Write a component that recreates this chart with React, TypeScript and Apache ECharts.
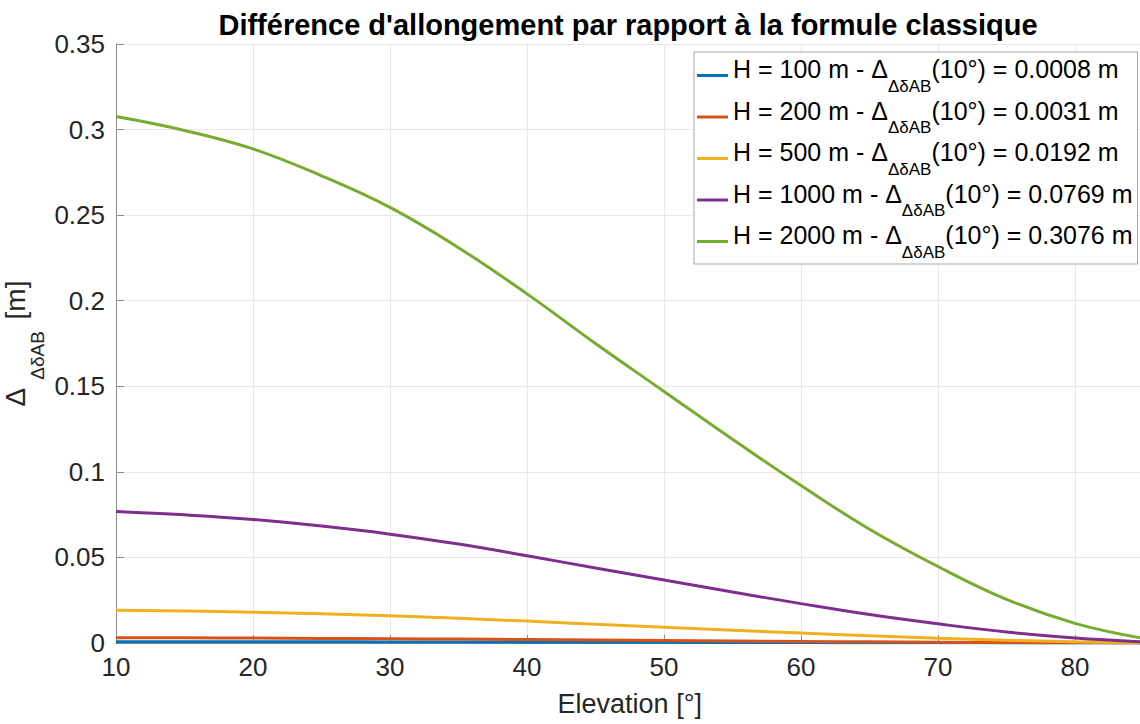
import React, { useEffect, useRef } from "react";
import * as echarts from "echarts";

const elevations = [10, 15, 20, 25, 30, 35, 40, 45, 50, 55, 60, 65, 70, 75, 80, 85];
const heights = ["H = 100 m", "H = 200 m", "H = 500 m", "H = 1000 m", "H = 2000 m"];
const colors = ["#0072BD", "#D95319", "#EDB120", "#7E2F8E", "#77AC30"];

const h100 = [0.0008, 0.00075, 0.00072, 0.00068, 0.00064, 0.00058, 0.00051, 0.00044, 0.00037, 0.0003, 0.00023, 0.00017, 0.00011, 0.00006, 0.00003, 0.00001];
const h200 = [0.0031, 0.003, 0.0029, 0.0027, 0.0025, 0.0023, 0.002, 0.00175, 0.00147, 0.00119, 0.00092, 0.00066, 0.00045, 0.00026, 0.00012, 0.00003];
const h500 = [0.0192, 0.0187, 0.018, 0.0171, 0.0159, 0.0144, 0.0128, 0.0109, 0.0092, 0.0074, 0.0058, 0.0042, 0.0028, 0.0016, 0.0007, 0.0002];
const h1000 = [0.0769, 0.0749, 0.0722, 0.0683, 0.0636, 0.0578, 0.051, 0.0438, 0.0368, 0.0298, 0.023, 0.0166, 0.0112, 0.0064, 0.0029, 0.0007];
const h2000 = [0.3076, 0.2995, 0.2887, 0.273, 0.2545, 0.231, 0.204, 0.175, 0.147, 0.119, 0.092, 0.0665, 0.0447, 0.0255, 0.0115, 0.0027];
const seriesValues = [h100, h200, h500, h1000, h2000];

const titleText = "Différence d'allongement par rapport à la formule classique";
const xName = "Elevation [°]";

const FONT = "'Liberation Sans', Arial, Helvetica, sans-serif";

export default function App() {
  const ref = useRef<HTMLDivElement>(null);
  useEffect(() => {
    if (!ref.current) return;
    const chart = echarts.init(ref.current, undefined, { renderer: "svg" });
    const legendMap: Record<string, string> = {};
    heights.forEach((h, i) => {
      legendMap[h] = seriesValues[i][0].toFixed(4);
    });
    const option: any = {
      animation: false,
      backgroundColor: "#ffffff",
      title: {
        text: titleText,
        left: 623,
        textAlign: "center",
        top: 5.5,
        textStyle: { fontFamily: FONT, fontSize: 29, fontWeight: "bold", color: "#000000" },
      },
      grid: {
        left: 116,
        top: 44,
        width: 1027.5,
        height: 599,
        containLabel: false,
        outerBoundsMode: "none",
      },
      legend: {
        orient: "vertical",
        left: 694,
        top: 52,
        padding: [4.5, 5, 3.5, 3],
        itemGap: 3.5,
        itemWidth: 31,
        itemHeight: 3,
        icon: "rect",
        backgroundColor: "#ffffff",
        borderColor: "#a6a6a6",
        borderWidth: 1,
        data: heights,
        formatter: (name: string) => `{a|${name} - Δ}{s|ΔδAB}{a|(10°) = ${legendMap[name]} m}`,
        textStyle: {
          fontFamily: FONT,
          color: "#000000",
          rich: {
            a: { fontFamily: FONT, fontSize: 25, color: "#000000", lineHeight: 38, verticalAlign: "top" },
            s: { fontFamily: FONT, fontSize: 17, color: "#000000", lineHeight: 4, verticalAlign: "bottom" },
          },
        },
      },
      xAxis: {
        type: "value",
        min: 10,
        max: 85,
        interval: 10,
        name: xName,
        nameLocation: "middle",
        nameGap: 47,
        nameMoveOverlap: false,
        nameTextStyle: { fontFamily: FONT, fontSize: 27, color: "#262626" },
        axisLine: { show: true, lineStyle: { color: "#8c8c8c", width: 1 } },
        axisTick: { show: true, inside: true, length: 8, lineStyle: { color: "#8c8c8c" } },
        axisLabel: { fontFamily: FONT, fontSize: 26, color: "#262626", margin: 11, showMaxLabel: false },
        splitLine: { show: true, lineStyle: { color: "#e8e8e8", width: 1 } },
      },
      yAxis: {
        type: "value",
        min: 0,
        max: 0.35,
        interval: 0.05,
        name: "{a|Δ}{s|ΔδAB}{a| [m]}",
        nameLocation: "middle",
        nameRotate: 90,
        nameGap: 69,
        nameMoveOverlap: false,
        nameTextStyle: {
          fontFamily: FONT,
          color: "#262626",
          rich: {
            a: { fontFamily: FONT, fontSize: 28, color: "#262626", lineHeight: 46, verticalAlign: "top" },
            s: {
              fontFamily: FONT,
              fontSize: 19,
              color: "#262626",
              lineHeight: 4,
              verticalAlign: "bottom",
              padding: [0, 4, 0, 8],
            },
          },
        },
        axisLine: { show: true, lineStyle: { color: "#8c8c8c", width: 1 } },
        axisTick: { show: true, inside: true, length: 8, lineStyle: { color: "#8c8c8c" } },
        axisLabel: {
          fontFamily: FONT,
          fontSize: 26,
          color: "#262626",
          margin: 11,
          formatter: (v: number) => String(parseFloat(v.toFixed(2))),
        },
        splitLine: { show: true, lineStyle: { color: "#e8e8e8", width: 1 } },
      },
      series: heights.map((h, i) => ({
        name: h,
        type: "line",
        data: elevations.map((e, j) => [e, seriesValues[i][j]]),
        showSymbol: false,
        symbol: "none",
        smooth: 0.4,
        lineStyle: { color: colors[i], width: 3 },
        itemStyle: { color: colors[i] },
        z: 2 + i,
      })),
    };
    chart.setOption(option);
    return () => chart.dispose();
  }, []);
  return (
    <div
      ref={ref}
      style={{ position: "fixed", left: 0, top: 0, width: 1140, height: 724, background: "#fff" }}
    />
  );
}
